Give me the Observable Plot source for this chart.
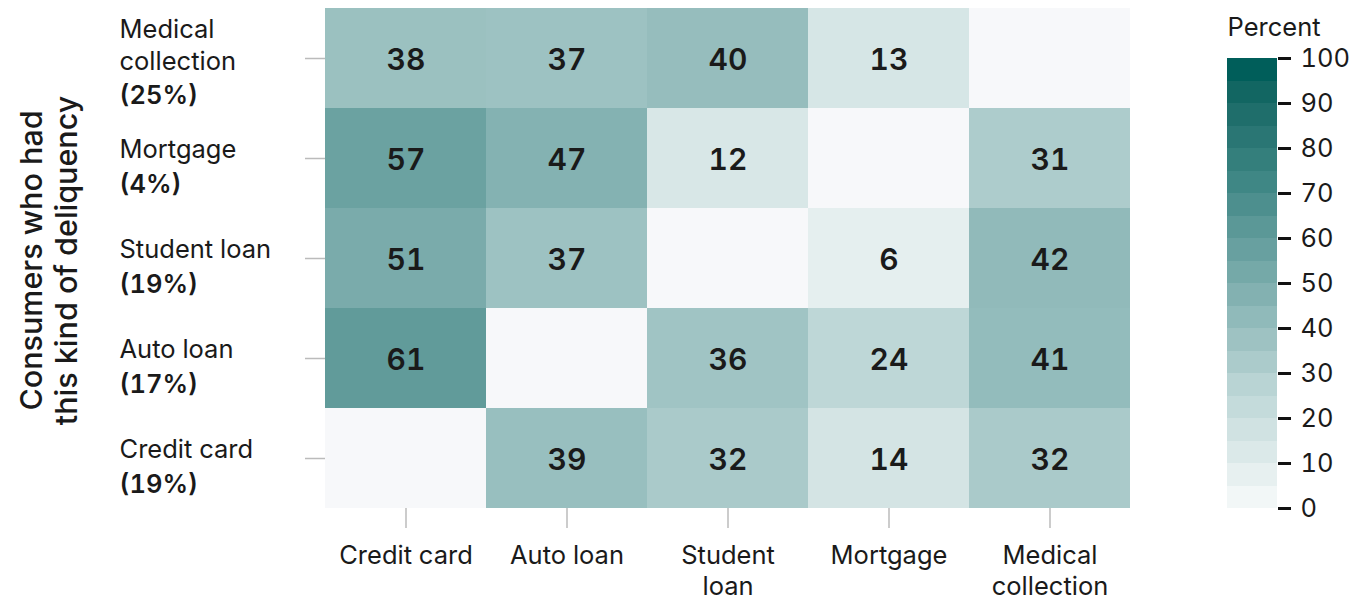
<!DOCTYPE html>
<html>
<head>
<meta charset="utf-8">
<script src="https://cdn.jsdelivr.net/npm/d3@7"></script>
<script src="https://cdn.jsdelivr.net/npm/@observablehq/plot@0.6"></script>
<style>
  html, body { margin: 0; padding: 0; background: #fff; }
  #wrap { position: relative; width: 1359px; height: 600px; font-family: Inter, Lato, sans-serif; }
  #main { position: absolute; left: 0; top: 0; }
  #legend { position: absolute; left: 1200px; top: 0; }
  .tnum text { font-feature-settings: "tnum" 1; font-variant-numeric: tabular-nums; }
</style>
</head>
<body>
<div id="wrap"><div id="main"></div><div id="legend"></div></div>
<script>
// ---- data ----
const rows = ["Medical collection", "Mortgage", "Student loan", "Auto loan", "Credit card"];
const rowNames = ["Medical\ncollection", "Mortgage", "Student loan", "Auto loan", "Credit card"];
const rowShares = ["(25%)", "(4%)", "(19%)", "(17%)", "(19%)"];
const cols = ["Credit card", "Auto loan", "Student loan", "Mortgage", "Medical collection"];
const colLabels = ["Credit card", "Auto loan", "Student\nloan", "Mortgage", "Medical\ncollection"];
const medicalRow = [38, 37, 40, 13, null];
const mortgageRow = [57, 47, 12, null, 31];
const studentRow = [51, 37, null, 6, 42];
const autoRow = [61, null, 36, 24, 41];
const creditRow = [null, 39, 32, 14, 32];
const legendTicks = [0, 10, 20, 30, 40, 50, 60, 70, 80, 90, 100];
const legendBands = d3.range(0, 100, 5);
const yTitle = "Consumers who had\nthis kind of deliquency";
const legendTitle = "Percent";

const matrix = [medicalRow, mortgageRow, studentRow, autoRow, creditRow];
const cells = [];
rows.forEach((r, i) => cols.forEach((c, j) => cells.push({row: r, col: c, value: matrix[i][j]})));
const filled = cells.filter(d => d.value != null);
const rowInfo = rows.map((r, i) => ({row: r, name: rowNames[i], share: rowShares[i], multi: rowNames[i].includes("\n")}));

const colorScale = {
  type: "linear",
  domain: [0, 25, 50, 75, 100],
  range: ["#f2f7f7", "#bcd6d6", "#7cadad", "#3b8583", "#005e5a"],
  interpolate: "lab"
};

const FONT = "Inter, Lato, sans-serif";
const TXT = "#1a1a1a";
const LF = 25.5;

const main = Plot.plot({
  width: 1200,
  height: 600,
  marginLeft: 325,
  marginRight: 70,
  marginTop: 8,
  marginBottom: 92,
  className: "tnum",
  style: {fontFamily: FONT, background: "#fff"},
  x: {type: "band", domain: cols, padding: 0, axis: null, label: null},
  y: {type: "band", domain: rows, padding: 0, axis: null, label: null},
  color: colorScale,
  marks: [
    Plot.cell(cells, {x: "col", y: "row", fill: "#f7f8fa", inset: 0, shapeRendering: "crispEdges"}),
    Plot.cell(filled, {x: "col", y: "row", fill: "value", inset: 0, shapeRendering: "crispEdges"}),
    Plot.text(filled, {x: "col", y: "row", text: d => String(d.value), dy: 2, fontSize: 30, fontWeight: 600, fill: TXT}),
    Plot.axisX({anchor: "bottom", label: null, tickSize: 20, stroke: "#bbbbbb", strokeWidth: 1.5, tickPadding: 13,
      tickFormat: c => colLabels[cols.indexOf(c)], fontSize: LF, fill: TXT, lineHeight: 1.22}),
    Plot.axisY({anchor: "left", label: null, tickSize: 20, stroke: "#bbbbbb", strokeWidth: 1.5, text: null}),
    // row labels
    Plot.text(rowInfo.filter(d => !d.multi), {y: "row", text: "name", frameAnchor: "left", textAnchor: "start", dx: -206, dy: -9, fontSize: LF, fill: TXT}),
    Plot.text(rowInfo.filter(d => d.multi), {y: "row", text: "name", frameAnchor: "left", textAnchor: "start", dx: -206, dy: -15, lineHeight: 1.27, fontSize: LF, fill: TXT}),
    Plot.text(rowInfo.filter(d => !d.multi), {y: "row", text: "share", frameAnchor: "left", textAnchor: "start", dx: -206, dy: 26, fontSize: LF, fontWeight: 600, fill: TXT}),
    Plot.text(rowInfo.filter(d => d.multi), {y: "row", text: "share", frameAnchor: "left", textAnchor: "start", dx: -206, dy: 37, fontSize: LF, fontWeight: 600, fill: TXT}),
    // y title
    Plot.text([yTitle], {frameAnchor: "left", text: d => d, rotate: -90, textAnchor: "middle", dx: -277, dy: 2, fontSize: 30.5, fontWeight: 500, lineHeight: 1.15, fill: TXT})
  ]
});
document.getElementById("main").appendChild(main);

const legend = Plot.plot({
  width: 159,
  height: 600,
  marginLeft: 27,
  marginRight: 82,
  marginTop: 58,
  marginBottom: 92,
  className: "tnum",
  style: {fontFamily: FONT, background: "transparent", overflow: "visible"},
  x: {axis: null},
  y: {domain: [0, 100], axis: null},
  color: colorScale,
  marks: [
    Plot.rectY(legendBands, {y1: d => d, y2: d => d + 5, fill: d => d * 100 / 95, shapeRendering: "crispEdges"}),
    Plot.axisY({anchor: "right", label: null, ticks: legendTicks, tickSize: 13, strokeWidth: 3, stroke: "#111", text: null}),
    Plot.text(legendTicks, {y: d => d, text: d => String(d), frameAnchor: "right", textAnchor: "start", dx: 23, fontSize: LF, fill: TXT}),
    Plot.text([legendTitle], {frameAnchor: "top-left", text: d => d, textAnchor: "start", lineAnchor: "middle", dy: -31, fontSize: LF, fill: TXT})
  ]
});
document.getElementById("legend").appendChild(legend);
</script>
</body>
</html>
